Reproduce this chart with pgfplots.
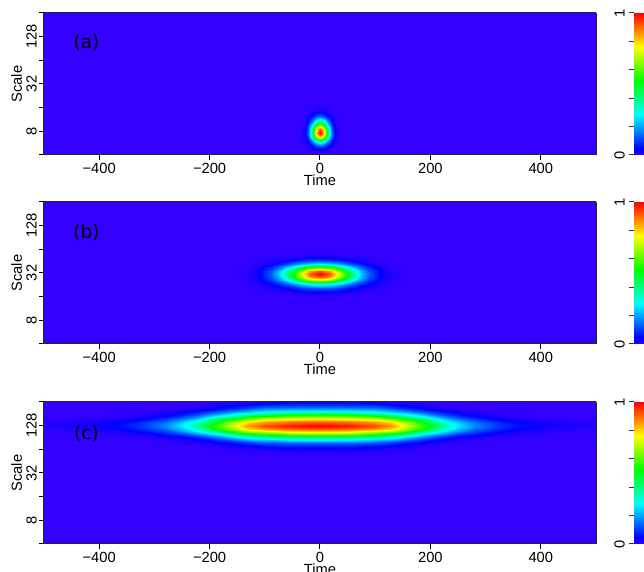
\documentclass[border=0pt]{standalone}
\usepackage{pgfplots}
\pgfplotsset{compat=1.18}
\usepackage{fontspec}
\setmainfont{Liberation Sans}
\newfontfamily\labfont{DejaVu Sans}
\tikzset{plab/.style={font=\labfont\fontsize{9.25}{11}\selectfont, text=black}}
\pgfplotsset{
  colormap={hsvr}{rgb(0pt)=(0.2,0,1); rgb(12pt)=(0,0,1); rgb(72pt)=(0,1,1); rgb(132pt)=(0,1,0); rgb(192pt)=(1,1,0); rgb(252pt)=(1,0,0)},
  panel/.style={
    width=276pt, height=71pt, scale only axis,
    view={0}{90},
    xmin=-500, xmax=500, ymin=2, ymax=8,
    xtick={-400,-200,0,200,400},
    xticklabels={−400,−200,0,200,400},
    ytick={2,3,4,5,6,7,8},
    yticklabels={,8,,32,,128,},
    ztick=\empty,
    tick align=outside,
    major tick length=2.4pt,
    tick pos=left,
    tick style={black, line width=0.5pt},
    axis line style={line width=0.5pt, black!85},
    tick label style={font=\fontsize{7.35}{8}\selectfont, text=black},
    xticklabel style={inner sep=1.5pt},
    yticklabel style={rotate=90, anchor=south, inner sep=1pt},
    every axis x label/.style={at={(ticklabel cs:0.5)}, anchor=north, inner sep=0pt, yshift=1pt, font=\fontsize{7.35}{8}\selectfont},
    every axis y label/.style={at={(ticklabel cs:0.5)}, anchor=south, rotate=90, inner sep=1pt, font=\fontsize{7.35}{8}\selectfont},
    xlabel=Time, ylabel=Scale,
    colormap name=hsvr,
    point meta min=0, point meta max=1,
    colorbar,
    colorbar style={
      at={(parent axis.north east)}, anchor=north west, xshift=10.5pt,
      width=5pt,
      ytick={0,0.2,0.4,0.6,0.8,1},
      yticklabels={0,,,,,1},
      yticklabel pos=left,
      tick align=outside, major tick length=2.5pt,
      tick style={black!80, line width=0.5pt},
      axis line style={draw=none},
      yticklabel style={rotate=90, anchor=south, inner sep=2pt, font=\fontsize{7.35}{8}\selectfont},
    },
  },
  bgsurf/.style={surf, shader=flat, mesh/cols=2},
  blob/.style={surf, shader=interp},
}
\begin{document}
\begin{tikzpicture}
% ---------------- (a)
\begin{axis}[panel, name=pa, at={(0,0)}, anchor=north west]
\addplot3[bgsurf] coordinates {(-500,2,0) (500,2,0) (-500,8,0) (500,8,0)};
\addplot3[blob, mesh/cols=17] coordinates {
(-40.7,1.94,0) (-33,1.94,0) (-27.5,1.94,0) (-22,1.94,0) (-17.6,1.94,0) (-13.2,1.94,0) (-8.8,1.94,0) (-4.4,1.94,0) (0,1.94,0) (4.4,1.94,0) (8.8,1.94,0) (13.2,1.94,0) (17.6,1.94,0) (22,1.94,0) (27.5,1.94,0) (33,1.94,0) (40.7,1.94,0)
(-40.7,2.13,0) (-33,2.13,0.0001) (-27.5,2.13,0.0005) (-22,2.13,0.0015) (-17.6,2.13,0.0031) (-13.2,2.13,0.0054) (-8.8,2.13,0.0081) (-4.4,2.13,0.0102) (0,2.13,0.0111) (4.4,2.13,0.0102) (8.8,2.13,0.0081) (13.2,2.13,0.0054) (17.6,2.13,0.0031) (22,2.13,0.0015) (27.5,2.13,0.0005) (33,2.13,0.0001) (40.7,2.13,0)
(-40.7,2.265,0) (-33,2.265,0.0005) (-27.5,2.265,0.0019) (-22,2.265,0.0059) (-17.6,2.265,0.0122) (-13.2,2.265,0.0214) (-8.8,2.265,0.0319) (-4.4,2.265,0.0405) (0,2.265,0.0439) (4.4,2.265,0.0405) (8.8,2.265,0.0319) (13.2,2.265,0.0214) (17.6,2.265,0.0122) (22,2.265,0.0059) (27.5,2.265,0.0019) (33,2.265,0.0005) (40.7,2.265,0)
(-40.7,2.4,0) (-33,2.4,0.0015) (-27.5,2.4,0.0059) (-22,2.4,0.0183) (-17.6,2.4,0.0376) (-13.2,2.4,0.0659) (-8.8,2.4,0.0982) (-4.4,2.4,0.1249) (0,2.4,0.1353) (4.4,2.4,0.1249) (8.8,2.4,0.0982) (13.2,2.4,0.0659) (17.6,2.4,0.0376) (22,2.4,0.0183) (27.5,2.4,0.0059) (33,2.4,0.0015) (40.7,2.4,0)
(-40.7,2.508,0) (-33,2.508,0.0031) (-27.5,2.508,0.0122) (-22,2.508,0.0376) (-17.6,2.508,0.0773) (-13.2,2.508,0.1353) (-8.8,2.508,0.2019) (-4.4,2.508,0.2566) (0,2.508,0.278) (4.4,2.508,0.2566) (8.8,2.508,0.2019) (13.2,2.508,0.1353) (17.6,2.508,0.0773) (22,2.508,0.0376) (27.5,2.508,0.0122) (33,2.508,0.0031) (40.7,2.508,0)
(-40.7,2.616,0) (-33,2.616,0.0054) (-27.5,2.616,0.0214) (-22,2.616,0.0659) (-17.6,2.616,0.1353) (-13.2,2.616,0.237) (-8.8,2.616,0.3535) (-4.4,2.616,0.4494) (0,2.616,0.4868) (4.4,2.616,0.4494) (8.8,2.616,0.3535) (13.2,2.616,0.237) (17.6,2.616,0.1353) (22,2.616,0.0659) (27.5,2.616,0.0214) (33,2.616,0.0054) (40.7,2.616,0)
(-40.7,2.724,0) (-33,2.724,0.0081) (-27.5,2.724,0.0319) (-22,2.724,0.0982) (-17.6,2.724,0.2019) (-13.2,2.724,0.3535) (-8.8,2.724,0.5272) (-4.4,2.724,0.6703) (0,2.724,0.7261) (4.4,2.724,0.6703) (8.8,2.724,0.5272) (13.2,2.724,0.3535) (17.6,2.724,0.2019) (22,2.724,0.0982) (27.5,2.724,0.0319) (33,2.724,0.0081) (40.7,2.724,0)
(-40.7,2.832,0) (-33,2.832,0.0102) (-27.5,2.832,0.0405) (-22,2.832,0.1249) (-17.6,2.832,0.2566) (-13.2,2.832,0.4494) (-8.8,2.832,0.6703) (-4.4,2.832,0.8521) (0,2.832,0.9231) (4.4,2.832,0.8521) (8.8,2.832,0.6703) (13.2,2.832,0.4494) (17.6,2.832,0.2566) (22,2.832,0.1249) (27.5,2.832,0.0405) (33,2.832,0.0102) (40.7,2.832,0)
(-40.7,2.94,0) (-33,2.94,0.0111) (-27.5,2.94,0.0439) (-22,2.94,0.1353) (-17.6,2.94,0.278) (-13.2,2.94,0.4868) (-8.8,2.94,0.7261) (-4.4,2.94,0.9231) (0,2.94,1) (4.4,2.94,0.9231) (8.8,2.94,0.7261) (13.2,2.94,0.4868) (17.6,2.94,0.278) (22,2.94,0.1353) (27.5,2.94,0.0439) (33,2.94,0.0111) (40.7,2.94,0)
(-40.7,3.08,0) (-33,3.08,0.0102) (-27.5,3.08,0.0405) (-22,3.08,0.1249) (-17.6,3.08,0.2566) (-13.2,3.08,0.4494) (-8.8,3.08,0.6703) (-4.4,3.08,0.8521) (0,3.08,0.9231) (4.4,3.08,0.8521) (8.8,3.08,0.6703) (13.2,3.08,0.4494) (17.6,3.08,0.2566) (22,3.08,0.1249) (27.5,3.08,0.0405) (33,3.08,0.0102) (40.7,3.08,0)
(-40.7,3.22,0) (-33,3.22,0.0081) (-27.5,3.22,0.0319) (-22,3.22,0.0982) (-17.6,3.22,0.2019) (-13.2,3.22,0.3535) (-8.8,3.22,0.5272) (-4.4,3.22,0.6703) (0,3.22,0.7261) (4.4,3.22,0.6703) (8.8,3.22,0.5272) (13.2,3.22,0.3535) (17.6,3.22,0.2019) (22,3.22,0.0982) (27.5,3.22,0.0319) (33,3.22,0.0081) (40.7,3.22,0)
(-40.7,3.36,0) (-33,3.36,0.0054) (-27.5,3.36,0.0214) (-22,3.36,0.0659) (-17.6,3.36,0.1353) (-13.2,3.36,0.237) (-8.8,3.36,0.3535) (-4.4,3.36,0.4494) (0,3.36,0.4868) (4.4,3.36,0.4494) (8.8,3.36,0.3535) (13.2,3.36,0.237) (17.6,3.36,0.1353) (22,3.36,0.0659) (27.5,3.36,0.0214) (33,3.36,0.0054) (40.7,3.36,0)
(-40.7,3.5,0) (-33,3.5,0.0031) (-27.5,3.5,0.0122) (-22,3.5,0.0376) (-17.6,3.5,0.0773) (-13.2,3.5,0.1353) (-8.8,3.5,0.2019) (-4.4,3.5,0.2566) (0,3.5,0.278) (4.4,3.5,0.2566) (8.8,3.5,0.2019) (13.2,3.5,0.1353) (17.6,3.5,0.0773) (22,3.5,0.0376) (27.5,3.5,0.0122) (33,3.5,0.0031) (40.7,3.5,0)
(-40.7,3.64,0) (-33,3.64,0.0015) (-27.5,3.64,0.0059) (-22,3.64,0.0183) (-17.6,3.64,0.0376) (-13.2,3.64,0.0659) (-8.8,3.64,0.0982) (-4.4,3.64,0.1249) (0,3.64,0.1353) (4.4,3.64,0.1249) (8.8,3.64,0.0982) (13.2,3.64,0.0659) (17.6,3.64,0.0376) (22,3.64,0.0183) (27.5,3.64,0.0059) (33,3.64,0.0015) (40.7,3.64,0)
(-40.7,3.815,0) (-33,3.815,0.0005) (-27.5,3.815,0.0019) (-22,3.815,0.0059) (-17.6,3.815,0.0122) (-13.2,3.815,0.0214) (-8.8,3.815,0.0319) (-4.4,3.815,0.0405) (0,3.815,0.0439) (4.4,3.815,0.0405) (8.8,3.815,0.0319) (13.2,3.815,0.0214) (17.6,3.815,0.0122) (22,3.815,0.0059) (27.5,3.815,0.0019) (33,3.815,0.0005) (40.7,3.815,0)
(-40.7,3.99,0) (-33,3.99,0.0001) (-27.5,3.99,0.0005) (-22,3.99,0.0015) (-17.6,3.99,0.0031) (-13.2,3.99,0.0054) (-8.8,3.99,0.0081) (-4.4,3.99,0.0102) (0,3.99,0.0111) (4.4,3.99,0.0102) (8.8,3.99,0.0081) (13.2,3.99,0.0054) (17.6,3.99,0.0031) (22,3.99,0.0015) (27.5,3.99,0.0005) (33,3.99,0.0001) (40.7,3.99,0)
(-40.7,4.235,0) (-33,4.235,0) (-27.5,4.235,0) (-22,4.235,0) (-17.6,4.235,0) (-13.2,4.235,0) (-8.8,4.235,0) (-4.4,4.235,0) (0,4.235,0) (4.4,4.235,0) (8.8,4.235,0) (13.2,4.235,0) (17.6,4.235,0) (22,4.235,0) (27.5,4.235,0) (33,4.235,0) (40.7,4.235,0)
};
\node[plab] at (axis cs:-423,6.74,1) {(a)};
\end{axis}
% ---------------- (b)
\begin{axis}[panel, name=pb, at={(0,-94.5pt)}, anchor=north west]
\addplot3[bgsurf] coordinates {(-500,2,0) (500,2,0) (-500,8,0) (500,8,0)};
\addplot3[blob, mesh/cols=17] coordinates {
(-162.8,3.85,0) (-132,3.85,0) (-110,3.85,0) (-88,3.85,0) (-70.4,3.85,0) (-52.8,3.85,0) (-35.2,3.85,0) (-17.6,3.85,0) (0,3.85,0) (17.6,3.85,0) (35.2,3.85,0) (52.8,3.85,0) (70.4,3.85,0) (88,3.85,0) (110,3.85,0) (132,3.85,0) (162.8,3.85,0)
(-162.8,4.06,0) (-132,4.06,0.0001) (-110,4.06,0.0005) (-88,4.06,0.0015) (-70.4,4.06,0.0031) (-52.8,4.06,0.0054) (-35.2,4.06,0.0081) (-17.6,4.06,0.0102) (0,4.06,0.0111) (17.6,4.06,0.0102) (35.2,4.06,0.0081) (52.8,4.06,0.0054) (70.4,4.06,0.0031) (88,4.06,0.0015) (110,4.06,0.0005) (132,4.06,0.0001) (162.8,4.06,0)
(-162.8,4.21,0) (-132,4.21,0.0005) (-110,4.21,0.0019) (-88,4.21,0.0059) (-70.4,4.21,0.0122) (-52.8,4.21,0.0214) (-35.2,4.21,0.0319) (-17.6,4.21,0.0405) (0,4.21,0.0439) (17.6,4.21,0.0405) (35.2,4.21,0.0319) (52.8,4.21,0.0214) (70.4,4.21,0.0122) (88,4.21,0.0059) (110,4.21,0.0019) (132,4.21,0.0005) (162.8,4.21,0)
(-162.8,4.36,0) (-132,4.36,0.0015) (-110,4.36,0.0059) (-88,4.36,0.0183) (-70.4,4.36,0.0376) (-52.8,4.36,0.0659) (-35.2,4.36,0.0982) (-17.6,4.36,0.1249) (0,4.36,0.1353) (17.6,4.36,0.1249) (35.2,4.36,0.0982) (52.8,4.36,0.0659) (70.4,4.36,0.0376) (88,4.36,0.0183) (110,4.36,0.0059) (132,4.36,0.0015) (162.8,4.36,0)
(-162.8,4.48,0) (-132,4.48,0.0031) (-110,4.48,0.0122) (-88,4.48,0.0376) (-70.4,4.48,0.0773) (-52.8,4.48,0.1353) (-35.2,4.48,0.2019) (-17.6,4.48,0.2566) (0,4.48,0.278) (17.6,4.48,0.2566) (35.2,4.48,0.2019) (52.8,4.48,0.1353) (70.4,4.48,0.0773) (88,4.48,0.0376) (110,4.48,0.0122) (132,4.48,0.0031) (162.8,4.48,0)
(-162.8,4.6,0) (-132,4.6,0.0054) (-110,4.6,0.0214) (-88,4.6,0.0659) (-70.4,4.6,0.1353) (-52.8,4.6,0.237) (-35.2,4.6,0.3535) (-17.6,4.6,0.4494) (0,4.6,0.4868) (17.6,4.6,0.4494) (35.2,4.6,0.3535) (52.8,4.6,0.237) (70.4,4.6,0.1353) (88,4.6,0.0659) (110,4.6,0.0214) (132,4.6,0.0054) (162.8,4.6,0)
(-162.8,4.72,0) (-132,4.72,0.0081) (-110,4.72,0.0319) (-88,4.72,0.0982) (-70.4,4.72,0.2019) (-52.8,4.72,0.3535) (-35.2,4.72,0.5272) (-17.6,4.72,0.6703) (0,4.72,0.7261) (17.6,4.72,0.6703) (35.2,4.72,0.5272) (52.8,4.72,0.3535) (70.4,4.72,0.2019) (88,4.72,0.0982) (110,4.72,0.0319) (132,4.72,0.0081) (162.8,4.72,0)
(-162.8,4.84,0) (-132,4.84,0.0102) (-110,4.84,0.0405) (-88,4.84,0.1249) (-70.4,4.84,0.2566) (-52.8,4.84,0.4494) (-35.2,4.84,0.6703) (-17.6,4.84,0.8521) (0,4.84,0.9231) (17.6,4.84,0.8521) (35.2,4.84,0.6703) (52.8,4.84,0.4494) (70.4,4.84,0.2566) (88,4.84,0.1249) (110,4.84,0.0405) (132,4.84,0.0102) (162.8,4.84,0)
(-162.8,4.96,0) (-132,4.96,0.0111) (-110,4.96,0.0439) (-88,4.96,0.1353) (-70.4,4.96,0.278) (-52.8,4.96,0.4868) (-35.2,4.96,0.7261) (-17.6,4.96,0.9231) (0,4.96,1) (17.6,4.96,0.9231) (35.2,4.96,0.7261) (52.8,4.96,0.4868) (70.4,4.96,0.278) (88,4.96,0.1353) (110,4.96,0.0439) (132,4.96,0.0111) (162.8,4.96,0)
(-162.8,5.068,0) (-132,5.068,0.0102) (-110,5.068,0.0405) (-88,5.068,0.1249) (-70.4,5.068,0.2566) (-52.8,5.068,0.4494) (-35.2,5.068,0.6703) (-17.6,5.068,0.8521) (0,5.068,0.9231) (17.6,5.068,0.8521) (35.2,5.068,0.6703) (52.8,5.068,0.4494) (70.4,5.068,0.2566) (88,5.068,0.1249) (110,5.068,0.0405) (132,5.068,0.0102) (162.8,5.068,0)
(-162.8,5.176,0) (-132,5.176,0.0081) (-110,5.176,0.0319) (-88,5.176,0.0982) (-70.4,5.176,0.2019) (-52.8,5.176,0.3535) (-35.2,5.176,0.5272) (-17.6,5.176,0.6703) (0,5.176,0.7261) (17.6,5.176,0.6703) (35.2,5.176,0.5272) (52.8,5.176,0.3535) (70.4,5.176,0.2019) (88,5.176,0.0982) (110,5.176,0.0319) (132,5.176,0.0081) (162.8,5.176,0)
(-162.8,5.284,0) (-132,5.284,0.0054) (-110,5.284,0.0214) (-88,5.284,0.0659) (-70.4,5.284,0.1353) (-52.8,5.284,0.237) (-35.2,5.284,0.3535) (-17.6,5.284,0.4494) (0,5.284,0.4868) (17.6,5.284,0.4494) (35.2,5.284,0.3535) (52.8,5.284,0.237) (70.4,5.284,0.1353) (88,5.284,0.0659) (110,5.284,0.0214) (132,5.284,0.0054) (162.8,5.284,0)
(-162.8,5.392,0) (-132,5.392,0.0031) (-110,5.392,0.0122) (-88,5.392,0.0376) (-70.4,5.392,0.0773) (-52.8,5.392,0.1353) (-35.2,5.392,0.2019) (-17.6,5.392,0.2566) (0,5.392,0.278) (17.6,5.392,0.2566) (35.2,5.392,0.2019) (52.8,5.392,0.1353) (70.4,5.392,0.0773) (88,5.392,0.0376) (110,5.392,0.0122) (132,5.392,0.0031) (162.8,5.392,0)
(-162.8,5.5,0) (-132,5.5,0.0015) (-110,5.5,0.0059) (-88,5.5,0.0183) (-70.4,5.5,0.0376) (-52.8,5.5,0.0659) (-35.2,5.5,0.0982) (-17.6,5.5,0.1249) (0,5.5,0.1353) (17.6,5.5,0.1249) (35.2,5.5,0.0982) (52.8,5.5,0.0659) (70.4,5.5,0.0376) (88,5.5,0.0183) (110,5.5,0.0059) (132,5.5,0.0015) (162.8,5.5,0)
(-162.8,5.635,0) (-132,5.635,0.0005) (-110,5.635,0.0019) (-88,5.635,0.0059) (-70.4,5.635,0.0122) (-52.8,5.635,0.0214) (-35.2,5.635,0.0319) (-17.6,5.635,0.0405) (0,5.635,0.0439) (17.6,5.635,0.0405) (35.2,5.635,0.0319) (52.8,5.635,0.0214) (70.4,5.635,0.0122) (88,5.635,0.0059) (110,5.635,0.0019) (132,5.635,0.0005) (162.8,5.635,0)
(-162.8,5.77,0) (-132,5.77,0.0001) (-110,5.77,0.0005) (-88,5.77,0.0015) (-70.4,5.77,0.0031) (-52.8,5.77,0.0054) (-35.2,5.77,0.0081) (-17.6,5.77,0.0102) (0,5.77,0.0111) (17.6,5.77,0.0102) (35.2,5.77,0.0081) (52.8,5.77,0.0054) (70.4,5.77,0.0031) (88,5.77,0.0015) (110,5.77,0.0005) (132,5.77,0.0001) (162.8,5.77,0)
(-162.8,5.959,0) (-132,5.959,0) (-110,5.959,0) (-88,5.959,0) (-70.4,5.959,0) (-52.8,5.959,0) (-35.2,5.959,0) (-17.6,5.959,0) (0,5.959,0) (17.6,5.959,0) (35.2,5.959,0) (52.8,5.959,0) (70.4,5.959,0) (88,5.959,0) (110,5.959,0) (132,5.959,0) (162.8,5.959,0)
};
\node[plab] at (axis cs:-423,6.71,1) {(b)};
\end{axis}
% ---------------- (c)
\begin{axis}[panel, name=pc, at={(0,-194.5pt)}, anchor=north west]
\addplot3[bgsurf] coordinates {(-500,2,0) (500,2,0) (-500,8,0) (500,8,0)};
\addplot3[blob, mesh/cols=25] coordinates {
(-500,6.452,0) (-420,6.37,0) (-360,6.288,0) (-320,6.206,0) (-280,6.11,0) (-250,6.042,0) (-220,5.96,0) (-190,5.877,0) (-160,5.795,0) (-130,5.727,0) (-100,5.672,0) (-50,5.631,0) (0,5.631,0) (50,5.631,0) (100,5.672,0) (130,5.727,0) (160,5.795,0) (190,5.877,0) (220,5.96,0) (250,6.042,0) (280,6.11,0) (320,6.206,0) (360,6.288,0) (420,6.37,0) (500,6.452,0)
(-500,6.556,0.0001) (-420,6.489,0.0003) (-360,6.423,0.0007) (-320,6.356,0.0011) (-280,6.278,0.0019) (-250,6.223,0.003) (-220,6.156,0.0044) (-190,6.09,0.0062) (-160,6.023,0.0079) (-130,5.968,0.0095) (-100,5.923,0.0103) (-50,5.89,0.0109) (0,5.89,0.0111) (50,5.89,0.0109) (100,5.923,0.0103) (130,5.968,0.0095) (160,6.023,0.0079) (190,6.09,0.0062) (220,6.156,0.0044) (250,6.223,0.003) (280,6.278,0.0019) (320,6.356,0.0011) (360,6.423,0.0007) (420,6.489,0.0003) (500,6.556,0.0001)
(-500,6.63,0.0005) (-420,6.574,0.0013) (-360,6.519,0.0026) (-320,6.463,0.0044) (-280,6.399,0.0077) (-250,6.352,0.0119) (-220,6.297,0.0176) (-190,6.241,0.0246) (-160,6.186,0.0312) (-130,6.14,0.0378) (-100,6.103,0.0408) (-50,6.075,0.043) (0,6.075,0.0439) (50,6.075,0.043) (100,6.103,0.0408) (130,6.14,0.0378) (160,6.186,0.0312) (190,6.241,0.0246) (220,6.297,0.0176) (250,6.352,0.0119) (280,6.399,0.0077) (320,6.463,0.0044) (360,6.519,0.0026) (420,6.574,0.0013) (500,6.63,0.0005)
(-500,6.704,0.0016) (-420,6.66,0.0041) (-360,6.615,0.0081) (-320,6.571,0.0135) (-280,6.519,0.0237) (-250,6.482,0.0365) (-220,6.438,0.0541) (-190,6.393,0.0758) (-160,6.349,0.0961) (-130,6.312,0.1164) (-100,6.282,0.1258) (-50,6.26,0.1326) (0,6.26,0.1353) (50,6.26,0.1326) (100,6.282,0.1258) (130,6.312,0.1164) (160,6.349,0.0961) (190,6.393,0.0758) (220,6.438,0.0541) (250,6.482,0.0365) (280,6.519,0.0237) (320,6.571,0.0135) (360,6.615,0.0081) (420,6.66,0.0041) (500,6.704,0.0016)
(-500,6.763,0.0033) (-420,6.728,0.0083) (-360,6.692,0.0167) (-320,6.657,0.0278) (-280,6.615,0.0487) (-250,6.586,0.0751) (-220,6.55,0.1112) (-190,6.515,0.1557) (-160,6.479,0.1974) (-130,6.449,0.2391) (-100,6.426,0.2585) (-50,6.408,0.2724) (0,6.408,0.278) (50,6.408,0.2724) (100,6.426,0.2585) (130,6.449,0.2391) (160,6.479,0.1974) (190,6.515,0.1557) (220,6.55,0.1112) (250,6.586,0.0751) (280,6.615,0.0487) (320,6.657,0.0278) (360,6.692,0.0167) (420,6.728,0.0083) (500,6.763,0.0033)
(-500,6.822,0.0058) (-420,6.796,0.0146) (-360,6.769,0.0292) (-320,6.742,0.0487) (-280,6.711,0.0852) (-250,6.689,0.1314) (-220,6.663,0.1947) (-190,6.636,0.2726) (-160,6.609,0.3456) (-130,6.587,0.4186) (-100,6.569,0.4527) (-50,6.556,0.4771) (0,6.556,0.4868) (50,6.556,0.4771) (100,6.569,0.4527) (130,6.587,0.4186) (160,6.609,0.3456) (190,6.636,0.2726) (220,6.663,0.1947) (250,6.689,0.1314) (280,6.711,0.0852) (320,6.742,0.0487) (360,6.769,0.0292) (420,6.796,0.0146) (500,6.822,0.0058)
(-500,6.882,0.0087) (-420,6.864,0.0218) (-360,6.846,0.0436) (-320,6.828,0.0726) (-280,6.808,0.1271) (-250,6.793,0.196) (-220,6.775,0.2904) (-190,6.757,0.4066) (-160,6.74,0.5155) (-130,6.725,0.6244) (-100,6.713,0.6753) (-50,6.704,0.7116) (0,6.704,0.7261) (50,6.704,0.7116) (100,6.713,0.6753) (130,6.725,0.6244) (160,6.74,0.5155) (190,6.757,0.4066) (220,6.775,0.2904) (250,6.793,0.196) (280,6.808,0.1271) (320,6.828,0.0726) (360,6.846,0.0436) (420,6.864,0.0218) (500,6.882,0.0087)
(-500,6.941,0.0111) (-420,6.932,0.0277) (-360,6.923,0.0554) (-320,6.914,0.0923) (-280,6.904,0.1615) (-250,6.896,0.2492) (-220,6.888,0.3692) (-190,6.879,0.5169) (-160,6.87,0.6554) (-130,6.862,0.7939) (-100,6.856,0.8585) (-50,6.852,0.9046) (0,6.852,0.9231) (50,6.852,0.9046) (100,6.856,0.8585) (130,6.862,0.7939) (160,6.87,0.6554) (190,6.879,0.5169) (220,6.888,0.3692) (250,6.896,0.2492) (280,6.904,0.1615) (320,6.914,0.0923) (360,6.923,0.0554) (420,6.932,0.0277) (500,6.941,0.0111)
(-500,7,0.012) (-420,7,0.03) (-360,7,0.06) (-320,7,0.1) (-280,7,0.175) (-250,7,0.27) (-220,7,0.4) (-190,7,0.56) (-160,7,0.71) (-130,7,0.86) (-100,7,0.93) (-50,7,0.98) (0,7,1) (50,7,0.98) (100,7,0.93) (130,7,0.86) (160,7,0.71) (190,7,0.56) (220,7,0.4) (250,7,0.27) (280,7,0.175) (320,7,0.1) (360,7,0.06) (420,7,0.03) (500,7,0.012)
(-500,7.064,0.0111) (-420,7.074,0.0277) (-360,7.083,0.0554) (-320,7.093,0.0923) (-280,7.104,0.1615) (-250,7.112,0.2492) (-220,7.122,0.3692) (-190,7.131,0.5169) (-160,7.141,0.6554) (-130,7.149,0.7939) (-100,7.155,0.8585) (-50,7.16,0.9046) (0,7.16,0.9231) (50,7.16,0.9046) (100,7.155,0.8585) (130,7.149,0.7939) (160,7.141,0.6554) (190,7.131,0.5169) (220,7.122,0.3692) (250,7.112,0.2492) (280,7.104,0.1615) (320,7.093,0.0923) (360,7.083,0.0554) (420,7.074,0.0277) (500,7.064,0.0111)
(-500,7.128,0.0087) (-420,7.147,0.0218) (-360,7.166,0.0436) (-320,7.186,0.0726) (-280,7.208,0.1271) (-250,7.224,0.196) (-220,7.243,0.2904) (-190,7.262,0.4066) (-160,7.282,0.5155) (-130,7.298,0.6244) (-100,7.31,0.6753) (-50,7.32,0.7116) (0,7.32,0.7261) (50,7.32,0.7116) (100,7.31,0.6753) (130,7.298,0.6244) (160,7.282,0.5155) (190,7.262,0.4066) (220,7.243,0.2904) (250,7.224,0.196) (280,7.208,0.1271) (320,7.186,0.0726) (360,7.166,0.0436) (420,7.147,0.0218) (500,7.128,0.0087)
(-500,7.192,0.0058) (-420,7.221,0.0146) (-360,7.25,0.0292) (-320,7.278,0.0487) (-280,7.312,0.0852) (-250,7.336,0.1314) (-220,7.365,0.1947) (-190,7.394,0.2726) (-160,7.422,0.3456) (-130,7.446,0.4186) (-100,7.466,0.4527) (-50,7.48,0.4771) (0,7.48,0.4868) (50,7.48,0.4771) (100,7.466,0.4527) (130,7.446,0.4186) (160,7.422,0.3456) (190,7.394,0.2726) (220,7.365,0.1947) (250,7.336,0.1314) (280,7.312,0.0852) (320,7.278,0.0487) (360,7.25,0.0292) (420,7.221,0.0146) (500,7.192,0.0058)
(-500,7.256,0.0033) (-420,7.294,0.0083) (-360,7.333,0.0167) (-320,7.371,0.0278) (-280,7.416,0.0487) (-250,7.448,0.0751) (-220,7.486,0.1112) (-190,7.525,0.1557) (-160,7.563,0.1974) (-130,7.595,0.2391) (-100,7.621,0.2585) (-50,7.64,0.2724) (0,7.64,0.278) (50,7.64,0.2724) (100,7.621,0.2585) (130,7.595,0.2391) (160,7.563,0.1974) (190,7.525,0.1557) (220,7.486,0.1112) (250,7.448,0.0751) (280,7.416,0.0487) (320,7.371,0.0278) (360,7.333,0.0167) (420,7.294,0.0083) (500,7.256,0.0033)
(-500,7.32,0.0016) (-420,7.368,0.0041) (-360,7.416,0.0081) (-320,7.464,0.0135) (-280,7.52,0.0237) (-250,7.56,0.0365) (-220,7.608,0.0541) (-190,7.656,0.0758) (-160,7.704,0.0961) (-130,7.744,0.1164) (-100,7.776,0.1258) (-50,7.8,0.1326) (0,7.8,0.1353) (50,7.8,0.1326) (100,7.776,0.1258) (130,7.744,0.1164) (160,7.704,0.0961) (190,7.656,0.0758) (220,7.608,0.0541) (250,7.56,0.0365) (280,7.52,0.0237) (320,7.464,0.0135) (360,7.416,0.0081) (420,7.368,0.0041) (500,7.32,0.0016)
(-500,7.4,0.0005) (-420,7.46,0.0013) (-360,7.52,0.0026) (-320,7.58,0.0044) (-280,7.65,0.0077) (-250,7.7,0.0119) (-220,7.76,0.0176) (-190,7.82,0.0246) (-160,7.88,0.0312) (-130,7.93,0.0378) (-100,7.97,0.0408) (-50,8,0.043) (0,8,0.0439) (50,8,0.043) (100,7.97,0.0408) (130,7.93,0.0378) (160,7.88,0.0312) (190,7.82,0.0246) (220,7.76,0.0176) (250,7.7,0.0119) (280,7.65,0.0077) (320,7.58,0.0044) (360,7.52,0.0026) (420,7.46,0.0013) (500,7.4,0.0005)
(-500,7.48,0.0001) (-420,7.552,0.0003) (-360,7.624,0.0007) (-320,7.696,0.0011) (-280,7.78,0.0019) (-250,7.84,0.003) (-220,7.912,0.0044) (-190,7.984,0.0062) (-160,8.056,0.0079) (-130,8.116,0.0095) (-100,8.164,0.0103) (-50,8.2,0.0109) (0,8.2,0.0111) (50,8.2,0.0109) (100,8.164,0.0103) (130,8.116,0.0095) (160,8.056,0.0079) (190,7.984,0.0062) (220,7.912,0.0044) (250,7.84,0.003) (280,7.78,0.0019) (320,7.696,0.0011) (360,7.624,0.0007) (420,7.552,0.0003) (500,7.48,0.0001)
(-500,7.592,0) (-420,7.681,0) (-360,7.77,0) (-320,7.858,0) (-280,7.962,0) (-250,8.036,0) (-220,8.125,0) (-190,8.214,0) (-160,8.302,0) (-130,8.376,0) (-100,8.436,0) (-50,8.48,0) (0,8.48,0) (50,8.48,0) (100,8.436,0) (130,8.376,0) (160,8.302,0) (190,8.214,0) (220,8.125,0) (250,8.036,0) (280,7.962,0) (320,7.858,0) (360,7.77,0) (420,7.681,0) (500,7.592,0)
};
\node[plab] at (axis cs:-423,6.68,1) {(c)};
\end{axis}
\pgfresetboundingbox
\path[use as bounding box] (pa.north west) ++(-22pt,6.5pt) rectangle ++(322pt,-286pt);
\end{tikzpicture}
\end{document}
